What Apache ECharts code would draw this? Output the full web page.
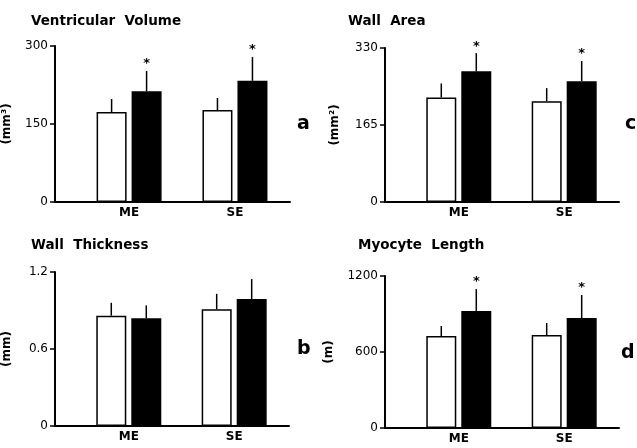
<!DOCTYPE html>
<html><head><meta charset="utf-8">
<script src="https://cdn.jsdelivr.net/npm/echarts@6/dist/echarts.min.js"></script>
<style>html,body{margin:0;padding:0;background:#fff}#c{width:637px;height:448px}</style>
</head><body><div id="c"></div>
<script>
// ---- data ----
const categories = ['ME', 'SE'];

// a: Ventricular Volume (mm3)
const volOpen = [173, 177];
const volOpenSD = [25, 23];
const volFilled = [213, 233];
const volFilledSD = [39, 46];
const volFilledSig = [1, 1];
const volTicks = ['0', '150', '300'];

// b: Wall Thickness (mm)
const thkOpen = [0.86, 0.91];
const thkOpenSD = [0.10, 0.12];
const thkFilled = [0.84, 0.99];
const thkFilledSD = [0.10, 0.155];
const thkFilledSig = [0, 0];
const thkTicks = ['0', '0.6', '1.2'];

// c: Wall Area (mm2)
const areaOpen = [224, 216];
const areaOpenSD = [30, 28];
const areaFilled = [280, 259];
const areaFilledSD = [39, 43];
const areaFilledSig = [1, 1];
const areaTicks = ['0', '165', '330'];

// d: Myocyte Length (m)
const lenOpen = [726, 734];
const lenOpenSD = [79, 95];
const lenFilled = [924, 868];
const lenFilledSD = [173, 182];
const lenFilledSig = [1, 1];
const lenTicks = ['0', '600', '1200'];

const panels = [
  {title:'Ventricular  Volume', letter:'a', unit:'(mm³)', max:300, ticks:volTicks,
   open:volOpen, openSD:volOpenSD, filled:volFilled, filledSD:volFilledSD, sig:volFilledSig,
   grid:{left:55, top:46, width:235, height:156}, nameGap:42, titlePos:[31,14], letterPos:[297,115]},
  {title:'Wall  Thickness', letter:'b', unit:'(mm)', max:1.2, ticks:thkTicks,
   open:thkOpen, openSD:thkOpenSD, filled:thkFilled, filledSD:thkFilledSD, sig:thkFilledSig,
   grid:{left:55, top:272, width:234, height:154}, nameGap:42, titlePos:[31,238], letterPos:[297,340]},
  {title:'Wall  Area', letter:'c', unit:'(mm²)', max:330, ticks:areaTicks,
   open:areaOpen, openSD:areaOpenSD, filled:areaFilled, filledSD:areaFilledSD, sig:areaFilledSig,
   grid:{left:385, top:48, width:234, height:154}, nameGap:44, titlePos:[348,14], letterPos:[625,115]},
  {title:'Myocyte  Length', letter:'d', unit:'(m)', max:1200, ticks:lenTicks,
   open:lenOpen, openSD:lenOpenSD, filled:lenFilled, filledSD:lenFilledSD, sig:lenFilledSig,
   grid:{left:385, top:276, width:234, height:152}, nameGap:50, titlePos:[358,238], letterPos:[621,344]}
];

const BAR_W = 30, GAP = 5;
const titles = [], grids = [], xAxes = [], yAxes = [], series = [];

function errSeries(i, means, sds, sig, offset) {
  return {
    type:'custom', xAxisIndex:i, yAxisIndex:i, silent:true, z:5,
    data: means.map((m, j) => [j, m, m + sds[j], sig ? sig[j] : 0]),
    renderItem: (params, api) => {
      const x = api.value(0);
      const p0 = api.coord([x, api.value(1)]);
      const p1 = api.coord([x, api.value(2)]);
      const cx = p0[0] + offset;
      const ch = [{type:'line', shape:{x1:cx, y1:p0[1], x2:cx, y2:p1[1]},
                   style:{stroke:'#000', lineWidth:1.5}}];
      if (api.value(3)) {
        ch.push({type:'text', style:{text:'*', x:cx, y:p1[1]-7, textAlign:'center',
          textVerticalAlign:'middle', fontSize:13, fontWeight:'bold', fill:'#000',
          fontFamily:'DejaVu Sans'}});
      }
      return {type:'group', children:ch};
    }
  };
}

panels.forEach((p, i) => {
  titles.push({text:p.title, left:p.titlePos[0], top:p.titlePos[1], padding:0,
    textStyle:{fontFamily:'DejaVu Sans', fontWeight:'bold', fontSize:13.5, color:'#000'}});
  titles.push({text:p.letter, left:p.letterPos[0], top:p.letterPos[1], padding:0,
    textStyle:{fontFamily:'DejaVu Sans', fontWeight:'bold', fontSize:19, color:'#000'}});
  grids.push(p.grid);
  xAxes.push({type:'value', gridIndex:i, min:-0.7, max:1.52,
    axisLine:{show:true, onZero:false, lineStyle:{color:'#000', width:2}},
    axisTick:{show:false}, splitLine:{show:false},
    axisLabel:{customValues:[0, 1], formatter:v => categories[Math.round(v)],
      color:'#000', fontFamily:'DejaVu Sans', fontWeight:'bold', fontSize:12, margin:5}});
  yAxes.push({type:'value', gridIndex:i, min:0, max:p.max, interval:p.max/2,
    name:p.unit, nameLocation:'middle', nameGap:p.nameGap, nameRotate:90,
    nameTextStyle:{color:'#000', fontFamily:'DejaVu Sans', fontWeight:'bold', fontSize:12},
    axisLine:{show:true, onZero:false, lineStyle:{color:'#000', width:2}},
    axisTick:{show:true, length:5, lineStyle:{color:'#000', width:1.5}},
    splitLine:{show:false},
    axisLabel:{color:'#000', fontFamily:'DejaVu Sans', fontSize:12, margin:7,
      formatter:(v, idx) => p.ticks[idx]}});
  series.push({type:'bar', xAxisIndex:i, yAxisIndex:i, barWidth:BAR_W, barGap:(GAP/BAR_W*100)+'%',
    data:p.open.map((v, j) => [j, v]),
    itemStyle:{color:'#fff', borderColor:'#000', borderWidth:1.5}, silent:true});
  series.push({type:'bar', xAxisIndex:i, yAxisIndex:i, barWidth:BAR_W,
    data:p.filled.map((v, j) => [j, v]),
    itemStyle:{color:'#000', borderColor:'#000', borderWidth:1.5}, silent:true});
  series.push(errSeries(i, p.open, p.openSD, null, -(BAR_W + GAP) / 2));
  series.push(errSeries(i, p.filled, p.filledSD, p.sig, (BAR_W + GAP) / 2));
});

const chart = echarts.init(document.getElementById('c'), null, {renderer:'canvas'});
chart.setOption({backgroundColor:'#fff', animation:false, title:titles, grid:grids,
  xAxis:xAxes, yAxis:yAxes, series:series});
</script></body></html>
